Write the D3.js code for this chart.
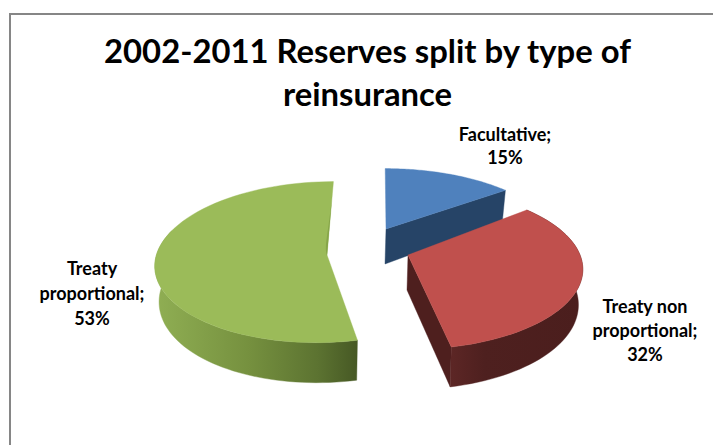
<!DOCTYPE html>
<html><head><meta charset="utf-8">
<script src="https://cdn.jsdelivr.net/npm/d3@7"></script>
<style>html,body{margin:0;padding:0;background:#fff}svg{display:block}text{font-family:Lato,"Open Sans",sans-serif;font-weight:700;fill:#000}</style>
</head><body><svg id="c" width="713" height="445"></svg>
<script>
(function(){
const titleLines = ["2002-2011 Reserves split by type of", "reinsurance"];
const categories = ["Facultative", "Treaty non proportional", "Treaty proportional"];
const values = [15, 32, 53];
const labelLines = [["Facultative;", "15%"], ["Treaty non", "proportional;", "32%"], ["Treaty", "proportional;", "53%"]];

// Layout of each exploded slice (apex position, rim offset, perspective shear, width) and its label.
const layout = [
  {ax:386, ay:229, c:0,    s:1,  rx:170, top:"#4f81bd", lx:505, ly:[141,164]},
  {ax:408, ay:255, c:-6.3, s:1,  rx:169, top:"#c0504d", lx:645, ly:[313,337,361]},
  {ax:327, ay:255, c:-13,  s:-8, rx:164.5, top:"#9bbb59", lx:92,  ly:[275,300,325]}
];
const RY=75.5, K=0.25;
const svg=d3.select("#c");
const defs=svg.append("defs");
const grad=(id,x1,x2,stops)=>{const g=defs.append("linearGradient").attr("id",id).attr("gradientUnits","userSpaceOnUse")
  .attr("x1",x1).attr("x2",x2).attr("y1",0).attr("y2",0);
  stops.forEach(([o,c])=>g.append("stop").attr("offset",o).attr("stop-color",c));};
grad("gw",157,358,[[0,"#8fae53"],[.45,"#76913f"],[.8,"#5c7331"],[1,"#465824"]]);
grad("rw",452,582,[[0,"#5c2625"],[.25,"#4e201f"],[1,"#4b1e1d"]]);

svg.append("path").attr("d","M713,14H10V445").attr("fill","none").attr("stroke","#868686").attr("stroke-width",2);

const title=svg.append("g").attr("text-anchor","middle").attr("font-size",32.8);
title.selectAll("text").data(titleLines).join("text").attr("x",367.5).attr("y",(d,i)=>63+i*43).text(d=>d);

const arcs=d3.pie().sort(null).startAngle(0).endAngle(2*Math.PI)(values);
const rim=(L,t)=>{const q=1+K*Math.cos(t);return [L.ax+(L.rx*Math.sin(t)-L.s*Math.cos(t))/q, L.ay+L.c-RY*Math.cos(t)/q];};
const base=(L,p,t)=>[L.ax+(p[0]-L.ax)*0.975, p[1]+34-6*Math.cos(t)];
const line=d3.line();
const samples=(a,b)=>d3.range(0,61).map(i=>a+(b-a)*i/60);

function wall(L,a,b,fill,g){
  const ts=samples(a,b), up=ts.map(t=>rim(L,t)), dn=ts.map((t,i)=>base(L,up[i],t)).reverse();
  g.append("path").attr("d",line(up.concat(dn))+"Z").attr("fill",fill).attr("stroke",fill).attr("stroke-width",.4);
}
function face(L,t,fill,g){
  const r=rim(L,t), rb=base(L,r,t), apexB=[L.ax-1,L.ay+35];
  g.append("path").attr("d",line([[L.ax,L.ay],r,rb,apexB])+"Z").attr("fill",fill).attr("stroke",fill).attr("stroke-width",.4);
}
function surface(L,a,b,g){
  const pts=[[L.ax,L.ay]].concat(samples(a,b).map(t=>rim(L,t)));
  g.append("path").attr("d",line(pts)+"Z").attr("fill",L.top).attr("stroke",L.top).attr("stroke-width",.4);
}
const [fa,re,gr]=arcs, g=svg.append("g");
// green slice: outer wall only up to the left extreme, so nothing shows behind the top
wall(layout[2],gr.startAngle,1.55*Math.PI,"url(#gw)",g);
surface(layout[2],gr.startAngle,gr.endAngle,g);
const Lg=layout[2], r0=rim(Lg,2*Math.PI);
g.append("path").attr("d",d3.line().curve(d3.curveBasis)([r0,[r0[0]-1,r0[1]+14],[r0[0]-5,r0[1]+45],[Lg.ax-2,Lg.ay-6],[Lg.ax,Lg.ay+1]])+
   "L"+r0[0]+","+r0[1]+"Z").attr("fill","#86a549");
// blue slice
face(layout[0],fa.endAngle,"#264467",g);
surface(layout[0],fa.startAngle,fa.endAngle,g);
// red slice
face(layout[1],re.endAngle,"#4e1f1e",g);
wall(layout[1],re.startAngle,re.endAngle,"url(#rw)",g);
surface(layout[1],re.startAngle,re.endAngle,g);

const lab=svg.append("g").attr("text-anchor","middle").attr("font-size",18);
labelLines.forEach((ls,i)=>ls.forEach((s,j)=>lab.append("text").attr("x",layout[i].lx).attr("y",layout[i].ly[j]).text(s)));
})();
</script></body></html>
